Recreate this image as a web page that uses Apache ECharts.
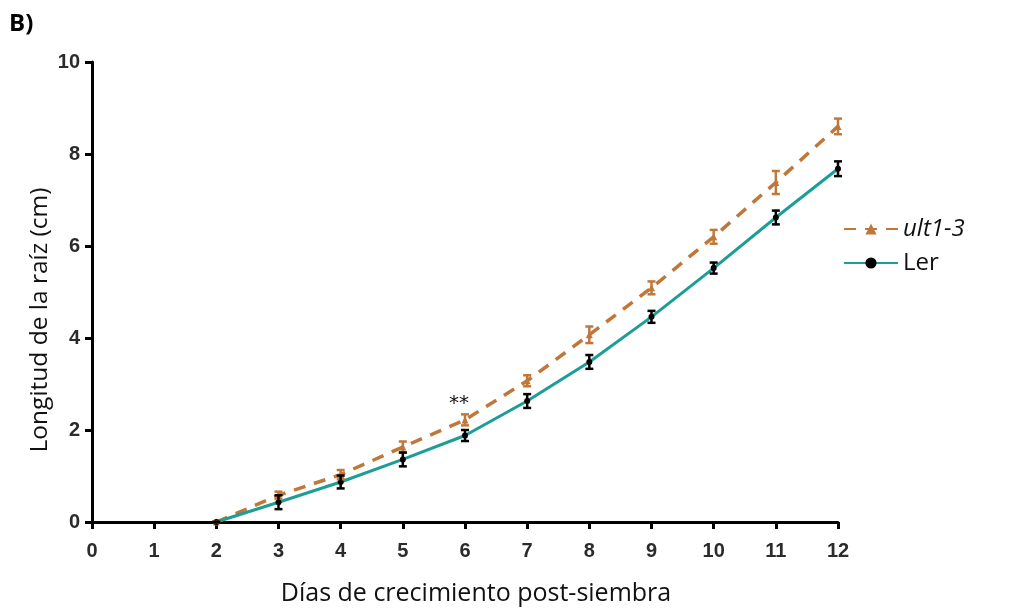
<!DOCTYPE html>
<html>
<head>
<meta charset="utf-8">
<script src="https://cdn.jsdelivr.net/npm/echarts@6/dist/echarts.min.js"></script>
<style>html,body{margin:0;padding:0;background:#fff;}#c{width:1013px;height:611px;}</style>
</head>
<body>
<div id="c"></div>
<script>
const days = [2, 3, 4, 5, 6, 7, 8, 9, 10, 11, 12];
const lerMean = [0, 0.43, 0.87, 1.36, 1.88, 2.63, 3.48, 4.46, 5.52, 6.62, 7.68];
const lerErr  = [0, 0.15, 0.14, 0.15, 0.12, 0.15, 0.15, 0.13, 0.12, 0.15, 0.16];
const ultMean = [0, 0.58, 1.03, 1.63, 2.22, 3.07, 4.07, 5.09, 6.20, 7.38, 8.60];
const ultErr  = [0, 0.08, 0.10, 0.12, 0.12, 0.12, 0.18, 0.14, 0.15, 0.25, 0.17];
const xTicks = [0, 1, 2, 3, 4, 5, 6, 7, 8, 9, 10, 11, 12];
const yTicks = [0, 2, 4, 6, 8, 10];
const sigDay = 6;
const sigLabel = '**';

const TEAL = '#1c9e96';
const BROWN = '#c0783a';

function pairs(x, y) { return x.map((d, i) => [d, y[i]]); }
function errData(x, m, e) { return x.map((d, i) => [d, m[i] - e[i], m[i] + e[i]]); }

function errRender(color) {
  return function (params, api) {
    const x = api.value(0);
    const lo = api.coord([x, api.value(1)]);
    const hi = api.coord([x, api.value(2)]);
    const w = 4;
    const style = { stroke: color, lineWidth: 2.5 };
    return {
      type: 'group',
      children: [
        { type: 'line', shape: { x1: lo[0], y1: lo[1], x2: hi[0], y2: hi[1] }, style: style },
        { type: 'line', shape: { x1: lo[0] - w, y1: lo[1], x2: lo[0] + w, y2: lo[1] }, style: style },
        { type: 'line', shape: { x1: hi[0] - w, y1: hi[1], x2: hi[0] + w, y2: hi[1] }, style: style }
      ]
    };
  };
}

const chart = echarts.init(document.getElementById('c'), null, { renderer: 'canvas' });
chart.setOption({
  animation: false,
  backgroundColor: '#fff',
  grid: { left: 92, right: 175, top: 62, bottom: 89, containLabel: false },
  graphic: [
    { type: 'text', left: 9, top: 12,
      style: { text: 'B)', font: 'bold 24px "Open Sans"', fill: '#000' } },
    { type: 'text', x: 476, y: 594,
      style: { text: 'Días de crecimiento post-siembra', font: '25px "Open Sans"', fill: '#111',
        textAlign: 'center', textVerticalAlign: 'middle' } },
    { type: 'text', x: 40, y: 320, rotation: Math.PI / 2,
      style: { text: 'Longitud de la raíz (cm)', font: '24.5px "Open Sans"', fill: '#111',
        textAlign: 'center', textVerticalAlign: 'middle' } }
  ],
  legend: {
    orient: 'vertical', left: 838, top: 212, itemWidth: 54, itemHeight: 14, itemGap: 10,
    textStyle: { fontFamily: 'Open Sans', fontSize: 24, color: '#111' },
    data: [
      { name: 'ult1-3', textStyle: { fontStyle: 'italic' } },
      { name: 'Ler' }
    ]
  },
  xAxis: {
    type: 'value', min: xTicks[0], max: xTicks[xTicks.length - 1], interval: 1,
    axisLine: { show: true, onZero: false, lineStyle: { color: '#000', width: 3 } },
    axisTick: { show: true, length: 7, lineStyle: { color: '#000', width: 3 } },
    axisLabel: { fontFamily: 'Liberation Sans', fontSize: 20, fontWeight: 'bold', color: '#2b2b2b', margin: 19 },
    splitLine: { show: false }
  },
  yAxis: {
    type: 'value', min: yTicks[0], max: yTicks[yTicks.length - 1], interval: 2,
    axisLine: { show: true, onZero: false, lineStyle: { color: '#000', width: 3 } },
    axisTick: { show: true, length: 7, lineStyle: { color: '#000', width: 3 } },
    axisLabel: { fontFamily: 'Liberation Sans', fontSize: 20, fontWeight: 'bold', color: '#2b2b2b', margin: 12 },
    splitLine: { show: false }
  },
  series: [
    {
      name: 'ult1-3', type: 'line', data: pairs(days, ultMean), z: 3,
      symbol: 'triangle', symbolSize: 7, showSymbol: true,
      lineStyle: { color: BROWN, width: 3.5, type: [12, 9] },
      itemStyle: { color: BROWN },
      markPoint: {
        symbol: 'circle', symbolSize: 0,
        data: [{ coord: [sigDay, ultMean[days.indexOf(sigDay)]] }],
        label: { show: true, formatter: sigLabel, position: 'top', distance: 6, offset: [-6, 0],
          fontFamily: 'DejaVu Sans', fontSize: 20, color: '#111' }
      }
    },
    {
      name: 'Ler', type: 'line', data: pairs(days, lerMean), z: 4,
      symbol: 'circle', symbolSize: 6, showSymbol: true,
      lineStyle: { color: TEAL, width: 3 },
      itemStyle: { color: '#000' }
    },
    {
      name: 'ult1-3 err', type: 'custom', data: errData(days, ultMean, ultErr), z: 5,
      renderItem: errRender(BROWN), encode: { x: 0, y: [1, 2] }, silent: true
    },
    {
      name: 'Ler err', type: 'custom', data: errData(days, lerMean, lerErr), z: 6,
      renderItem: errRender('#000'), encode: { x: 0, y: [1, 2] }, silent: true
    }
  ]
});
</script>
</body>
</html>
